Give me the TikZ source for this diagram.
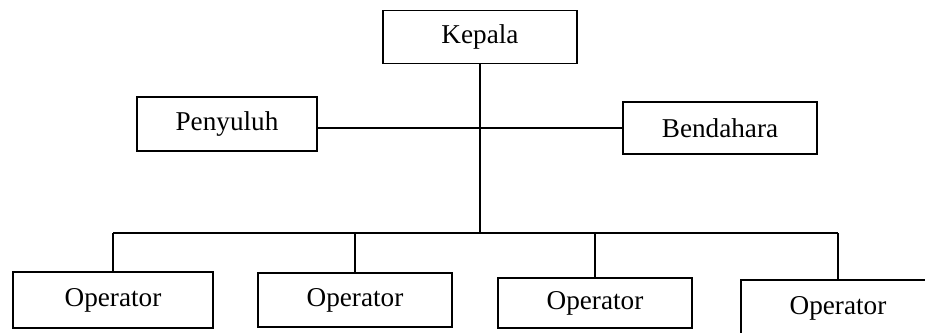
\documentclass[tikz,border=0pt]{standalone}
\usepackage{fontspec}
\setmainfont{Liberation Serif}
\usetikzlibrary{positioning}

\begin{document}
\begin{tikzpicture}[
    x=0.5pt, y=-0.5pt,
    font=\fontsize{13.6}{16}\selectfont,
    unit/.style={draw, line width=0.9pt, inner sep=2pt,
                 minimum width=97pt, minimum height=26.5pt},
    link/.style={line width=0.9pt},
  ]
  \useasboundingbox (0,0) rectangle (925,332);
  \clip (0,0) rectangle (925,332);

  % top level
  \node[unit] (kepala) at (480,37) {Kepala};

  % staff beside the head
  \node[unit, minimum width=90pt, minimum height=27pt] (penyuluh) at (227,124) {Penyuluh};
  \node[unit, minimum height=26pt] (bendahara) at (720,128) {Bendahara};

  % operators
  \node[unit, minimum width=100pt, minimum height=28pt] (op1) at (113,300) {Operator};
  \node[unit, minimum height=27pt] (op2) at (355,300) {Operator};
  \node[unit, minimum height=25pt] (op3) at (595,303) {Operator};
  \node[unit, minimum height=28pt] (op4) at (838,308) {Operator};

  \coordinate (bus) at (480,233);

  % connectors
  \draw[link] (kepala.south) -- (kepala.south |- bus);
  \draw[link] (penyuluh.east |- bendahara.west) -- (bendahara.west);
  \draw[link] (op1 |- bus) -- (op4 |- bus);
  \foreach \i in {1,...,4}
    \draw[link] (op\i |- bus) -- (op\i.north);
\end{tikzpicture}
\end{document}
